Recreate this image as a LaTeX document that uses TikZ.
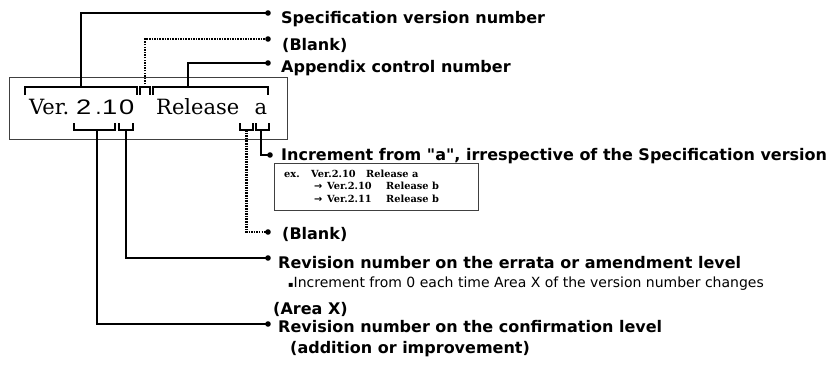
\documentclass[tikz,border=0pt]{standalone}
\usepackage{fontspec}
\newfontfamily\lblfont{DejaVu Sans}
\newfontfamily\serfont{DejaVu Serif}
\newfontfamily\digfont{Liberation Sans}
\begin{document}
\begin{tikzpicture}[x=1pt,y=-1pt,
  conn/.style={line width=2.4pt},
  dconn/.style={line width=2.3pt, dash pattern=on 1.5pt off 1.1pt},
  brk/.style={line width=1.5pt},
  boxline/.style={draw=black!75, line width=0.9pt},
  lbl/.style={anchor=base west, inner sep=0pt, font=\lblfont\bfseries\fontsize{16}{18}\selectfont},
  small/.style={anchor=base west, inner sep=0pt, font=\lblfont\fontsize{14}{16}\selectfont},
  big/.style={anchor=base west, inner sep=0pt, font=\serfont\fontsize{21}{24}\selectfont},
  bigd/.style={anchor=base west, inner sep=0pt, font=\digfont\fontsize{21}{24}\selectfont},
  ex/.style={anchor=base west, inner sep=0pt, font=\serfont\bfseries\fontsize{9.8}{11}\selectfont},
  exarrow/.style={anchor=base west, inner sep=0pt, font=\lblfont\bfseries\fontsize{9.8}{11}\selectfont},
  dotend/.style={fill=black}
]
\useasboundingbox (0,0) rectangle (835,365);

% main box
\node[boxline, minimum width=278pt, minimum height=62pt, anchor=north west, inner sep=0pt] (mainbox) at (9,77) {};

% main text
\node[big] (tver) at (29,114.3) {Ver.};
\node[bigd] (t2) at (76,114.3) {\scalebox{1.3}[1]{2}};
\node[bigd] (tdot) at (95.5,114.3) {.};
\node[bigd] (t1) at (102,114.3) {\scalebox{1.3}[1]{1}};
\node[bigd] (t0) at (119,114.3) {\scalebox{1.3}[1]{0}};
\node[big] (trel) at (156,114.3) {Release};
\node[big] (ta) at (254.5,114.3) {a};

% top brackets
\draw[brk] (25,95) -- (25,87) -- (137,87) -- (137,95);
\draw[brk] (140,95) -- (140,87) -- (150,87) -- (150,95);
\draw[brk] (153,95) -- (153,87) -- (268,87) -- (268,95);
% bottom brackets
\draw[brk] (74,123) -- (74,130) -- (115,130) -- (115,123);
\draw[brk] (119,123) -- (119,130) -- (133,130) -- (133,123);
\draw[brk] (240,123) -- (240,130) -- (253,130) -- (253,123);
\draw[brk] (256,123) -- (256,130) -- (269,130) -- (269,123);

% bracket connection points
\coordinate (b1) at (81,87);
\coordinate (b2) at (145,87);
\coordinate (b3) at (188,87);
\coordinate (c1) at (97,130);
\coordinate (c2) at (126,130);
\coordinate (c3) at (246.5,130);
\coordinate (c4) at (261,130);

% dot ends
\coordinate (d1) at (268,13);
\coordinate (d2) at (268,39);
\coordinate (d3) at (268,63);
\coordinate (d4) at (270,155);
\coordinate (d5) at (268,232);
\coordinate (d6) at (268,258);
\coordinate (d7) at (268,324);

% connectors
\draw[conn] (b1) |- (d1);
\draw[dconn] (b2) |- (d2);
\draw[conn] (b3) |- (d3);
\draw[conn] (c4) |- (d4);
\draw[dconn] (c3) |- (d5);
\draw[conn] (c2) |- (d6);
\draw[conn] (c1) |- (d7);
\foreach \d in {d1,d2,d3,d4,d5,d6,d7} \fill[dotend] (\d) circle (2.8pt);

% labels
\node[lbl] (l1) at (281,23) {Specification version number};
\node[lbl] (l2) at (282,50) {(Blank)};
\node[lbl] (l3) at (281,72) {Appendix control number};
\node[lbl] (l4) at (281,160) {Increment from "a", irrespective of the Specification version};
\node[lbl] (l5) at (282,239) {(Blank)};
\node[lbl] (l6) at (278,268) {Revision number on the errata or amendment level};
\node[small] (l7) at (288,287) {{\fontsize{8}{8}\selectfont ▪}Increment from 0 each time Area X of the version number changes};
\node[lbl] (l8) at (273,314) {(Area X)};
\node[lbl] (l9) at (278,332) {Revision number on the confirmation level};
\node[lbl] (l10) at (290,353) {(addition or improvement)};

% example box
\node[boxline, minimum width=204pt, minimum height=47pt, anchor=north west, inner sep=0pt] (exbox) at (274,163) {};
\node[ex] (e1a) at (284,177) {ex.};
\node[ex] (e1b) at (311,177) {Ver.2.10};
\node[ex] (e1c) at (366,177) {Release a};
\node[exarrow] (e2a) at (314,189.5) {→};
\node[ex] (e2b) at (327,189.5) {Ver.2.10};
\node[ex] (e2c) at (386,189.5) {Release b};
\node[exarrow] (e3a) at (314,202) {→};
\node[ex] (e3b) at (327,202) {Ver.2.11};
\node[ex] (e3c) at (386,202) {Release b};
\end{tikzpicture}
\end{document}
